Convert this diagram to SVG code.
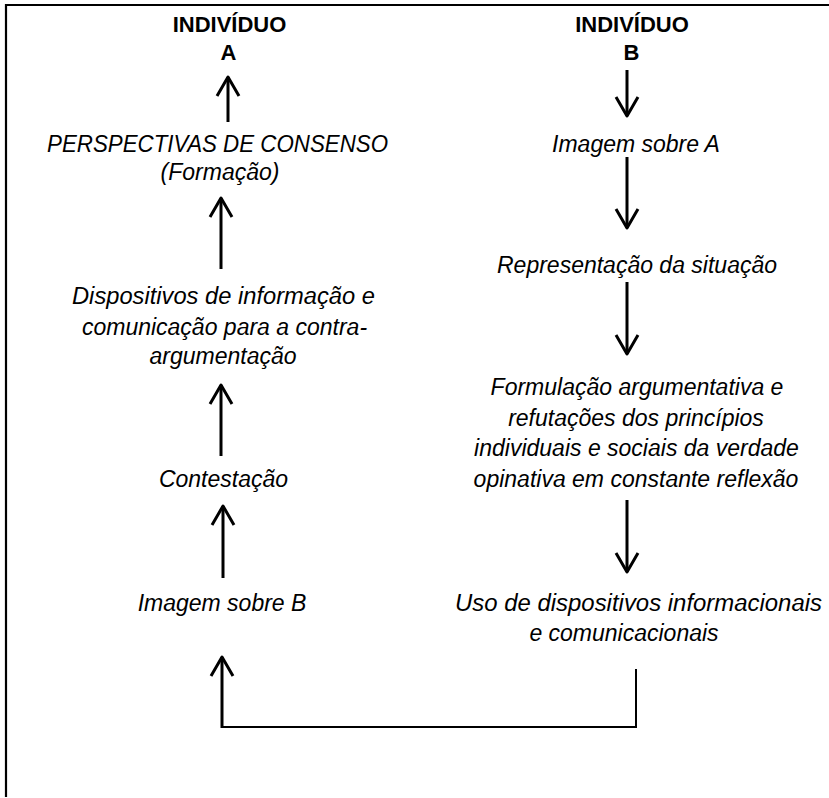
<svg xmlns="http://www.w3.org/2000/svg" width="829" height="798" viewBox="0 0 829 798">
<style>
.h{font-family:"Liberation Sans",Arial,sans-serif;font-size:22px;font-weight:bold;fill:#000;text-anchor:middle}
.t{font-family:"Liberation Sans",Arial,sans-serif;font-size:23px;font-style:italic;fill:#000;text-anchor:middle}
.c{stroke:#000;stroke-width:3;fill:none}
.thin{stroke:#000;stroke-width:2;fill:none}
</style>
<defs>
<marker id="arr" markerUnits="userSpaceOnUse" viewBox="-24 -14 30 28" markerWidth="30" markerHeight="28" refX="0" refY="0" orient="auto">
<path d="M-19,-11 L0,0 L-19,11" fill="none" stroke="#000" stroke-width="3" stroke-linejoin="round"/>
</marker>
</defs>
<rect width="829" height="798" fill="#fff"/>
<path d="M6,797 V5 H829" fill="none" stroke="#000" stroke-width="2.2"/>
<g id="indA"><text class="h" x="229.5" y="31.5">INDIVÍDUO</text><text class="h" x="228.5" y="60">A</text></g>
<g id="indB"><text class="h" x="632" y="31.5">INDIVÍDUO</text><text class="h" x="631.5" y="60">B</text></g>
<g id="perspectivas"><text class="t" x="217.5" y="152" textLength="341" lengthAdjust="spacingAndGlyphs">PERSPECTIVAS DE CONSENSO</text><text class="t" x="220" y="180">(Formação)</text></g>
<g id="dispositivos"><text class="t" x="223.5" y="304" textLength="303" lengthAdjust="spacingAndGlyphs">Dispositivos de informação e</text><text class="t" x="224.5" y="335">comunicação para a contra-</text><text class="t" x="223" y="364">argumentação</text></g>
<g id="contestacao"><text class="t" x="223.5" y="486.5">Contestação</text></g>
<g id="imagemB"><text class="t" x="222" y="611">Imagem sobre B</text></g>
<g id="imagemA"><text class="t" x="636" y="152">Imagem sobre A</text></g>
<g id="representacao"><text class="t" x="637" y="273">Representação da situação</text></g>
<g id="formulacao"><text class="t" x="637" y="395">Formulação argumentativa e</text><text class="t" x="636" y="425.5">refutações dos princípios</text><text class="t" x="636.5" y="456">individuais e sociais da verdade</text><text class="t" x="636" y="486.5">opinativa em constante reflexão</text></g>
<g id="uso"><text class="t" x="638.5" y="611" textLength="367" lengthAdjust="spacingAndGlyphs">Uso de dispositivos informacionais</text><text class="t" x="624" y="641">e comunicacionais</text></g>
<g id="connectors">
<line class="c" x1="228" y1="122" x2="228" y2="77" marker-end="url(#arr)"/>
<line class="c" x1="221" y1="269" x2="221" y2="198" marker-end="url(#arr)"/>
<line class="c" x1="221" y1="456" x2="221" y2="385" marker-end="url(#arr)"/>
<line class="c" x1="223" y1="578" x2="223" y2="506" marker-end="url(#arr)"/>
<line class="c" x1="627" y1="70" x2="627" y2="116" marker-end="url(#arr)"/>
<line class="c" x1="627" y1="157" x2="627" y2="228" marker-end="url(#arr)"/>
<line class="c" x1="627" y1="282" x2="627" y2="354" marker-end="url(#arr)"/>
<line class="c" x1="627" y1="500" x2="627" y2="572" marker-end="url(#arr)"/>
<path class="thin" d="M636,669 V727 H222"/>
<line class="c" x1="222" y1="728" x2="222" y2="657" marker-end="url(#arr)"/>
</g>
</svg>
